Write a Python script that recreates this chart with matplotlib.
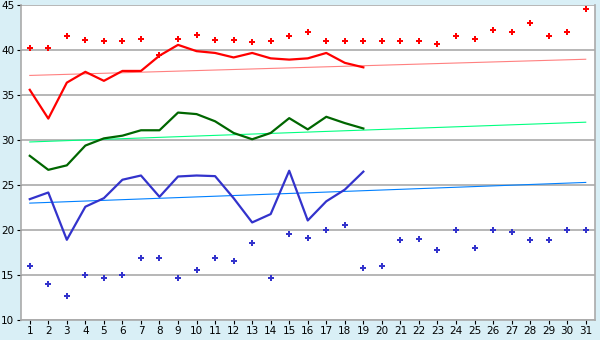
import numpy as np
import matplotlib
matplotlib.use("Agg")
from matplotlib import pyplot as plt

days = list(range(1, 32))
line_days = list(range(1, 20))

red_dots = [40.2, 40.2, 41.6, 41.1, 41.0, 41.0, 41.2, 39.5, 41.2, 41.7,
            41.1, 41.1, 40.9, 41.0, 41.6, 42.0, 41.0, 41.0, 41.0, 41.0,
            41.0, 41.0, 40.7, 41.55, 41.2, 42.2, 42.0, 43.0, 41.55, 42.0, 44.55]
blue_dots = [16.0, 14.0, 12.67, 15.0, 14.67, 15.0, 16.9, 16.9, 14.67, 15.6,
             16.9, 16.55, 18.55, 14.67, 19.55, 19.1, 20.0, 20.55, 15.78, 16.0,
             18.85, 19.0, 17.78, 20.0, 18.0, 20.0, 19.78, 18.85, 18.85, 20.0, 20.0]

red_line = [35.6, 32.4, 36.4, 37.6, 36.6, 37.7, 37.7, 39.4, 40.6, 39.9,
            39.7, 39.2, 39.7, 39.1, 38.96, 39.1, 39.7, 38.6, 38.1]
green_line = [28.26, 26.7, 27.2, 29.4, 30.2, 30.5, 31.1, 31.1, 33.07, 32.9,
              32.1, 30.8, 30.1, 30.8, 32.45, 31.2, 32.6, 31.9, 31.3]
blue_line = [23.44, 24.18, 18.92, 22.6, 23.55, 25.6, 26.07, 23.7, 25.96, 26.07,
             26.0, 23.55, 20.85, 21.78, 26.6, 21.07, 23.2, 24.5, 26.5]

trend_days = [1, 31]
red_trend = [37.2, 39.0]
green_trend = [29.8, 32.0]
blue_trend = [23.0, 25.3]

BG = "#D9EFF6"
GRID = "#AAAAAA"

fig = plt.figure(figsize=(6, 3.4), dpi=100, facecolor=BG)
ax = fig.add_axes([20.5 / 600, 20 / 340, 574.5 / 600, 314.7 / 340])
ax.set_facecolor("white")

ax.plot(trend_days, red_trend, color="#FF8080", lw=0.8)
ax.plot(trend_days, green_trend, color="#00FF80", lw=0.8)
ax.plot(trend_days, blue_trend, color="#0080FF", lw=0.8)

ax.plot(line_days, red_line, color="#FF0000", lw=1.6)
ax.plot(line_days, green_line, color="#006600", lw=1.6)
ax.plot(line_days, blue_line, color="#3333CC", lw=1.6)

ax.plot(days, red_dots, ls="none", marker="P", ms=5, color="#FF0000", mew=0)
ax.plot(days, blue_dots, ls="none", marker="P", ms=5, color="#3333CC", mew=0)

ax.set_xlim(0.5, 31.5)
ax.set_ylim(10, 45)
ax.set_xticks(days)
ax.set_yticks(np.arange(10, 46, 5))
ax.yaxis.grid(True, color=GRID, lw=1.2)
ax.set_axisbelow(True)
for s in ax.spines.values():
    s.set_color(GRID)
    s.set_linewidth(1.2)
ax.spines["top"].set_visible(False)
ax.tick_params(axis="both", labelsize=7.5, length=3, width=0.8, color="black", pad=1.5)

fig.savefig("out.png", dpi=100, facecolor=BG)
